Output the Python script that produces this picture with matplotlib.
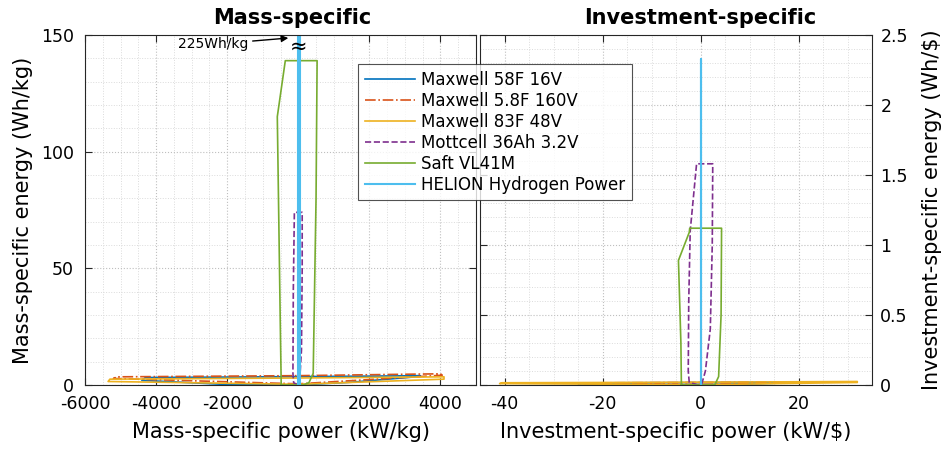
import matplotlib
matplotlib.use("Agg")
import matplotlib.pyplot as plt
from matplotlib.ticker import MultipleLocator

plt.rcParams['font.family'] = ['DejaVu Sans']
plt.rcParams['axes.unicode_minus'] = False

# ---------------- data ----------------
labels = ["Maxwell 58F 16V", "Maxwell 5.8F 160V", "Maxwell 83F 48V",
          "Mottcell 36Ah 3.2V", "Saft VL41M", "HELION Hydrogen Power"]

# mass-specific (power kW/kg, energy Wh/kg)
m58_p_mass = [0, -2000, -4400, -4300, -2000, 0, 2000, 3400, 3450, 1500, 0]
m58_e_mass = [0, 0.2, 2.0, 3.2, 3.4, 3.6, 3.8, 4.0, 3.7, 1.2, 0]
m58b_p_mass = [0, -5200, -5100, 0, 4000, 4050, 0]
m58b_e_mass = [0.5, 2.8, 3.5, 4.0, 4.8, 4.2, 0.5]
m83_p_mass = [0, -5350, -5300, 0, 4100, 4100, 0]
m83_e_mass = [0.3, 1.5, 2.5, 3.0, 3.5, 2.5, 0.3]
mott_p_mass = [-20, -130, -150, -140, -110, 110, 110, 90, 40, -20]
mott_e_mass = [0, 1, 5, 40, 74, 74, 50, 15, 2, 0]
saft_p_mass = [-480, -500, -590, -365, 530, 500, 420, 300, 140, -480]
saft_e_mass = [0, 20, 115, 139, 139, 80, 5, 1, 0, 0]
hel_p_mass = [0, 0, 50, 50, 0]
hel_e_mass = [0, 225, 225, 0, 0]

# investment-specific (power kW/$, energy Wh/$)
m58_p_inv = [0, -10, -25, -24, 0, 20, 20, 8, 0]
m58_e_inv = [0, 0.002, 0.010, 0.015, 0.017, 0.020, 0.017, 0.006, 0]
m58b_p_inv = [0, -25, -24, 0, 19.5, 19.5, 0]
m58b_e_inv = [0.002, 0.012, 0.015, 0.018, 0.022, 0.018, 0.002]
m83_p_inv = [0, -41, -40.5, 0, 32, 32, 0]
m83_e_inv = [0.002, 0.010, 0.016, 0.020, 0.025, 0.018, 0.002]
mott_p_inv = [-0.5, -2.3, -2.5, -2.4, -2.1, -0.8, 2.5, 2.4, 2.0, 1.0, 0.2, -0.5]
mott_e_inv = [0, 0.02, 0.1, 0.6, 1.1, 1.58, 1.58, 1.0, 0.4, 0.1, 0, 0]
saft_p_inv = [-3.9, -4.0, -4.5, -2.3, -2.2, 4.3, 4.2, 3.7, 2.9, -3.9]
saft_e_inv = [0, 0.3, 0.89, 1.09, 1.12, 1.12, 0.5, 0.06, 0, 0]
hel_p_inv = [0, 0, 0.2, 0.2, 0]
hel_e_inv = [0, 2.33, 2.33, 0, 0]

mass_x_ticks = [-6000, -4000, -2000, 0, 2000, 4000]
mass_y_ticks = [0, 50, 100, 150]
inv_x_ticks = [-40, -20, 0, 20]
inv_y_ticks = [0, 0.5, 1, 1.5, 2, 2.5]
inv_y_ticklabels = ["0", "0.5", "1", "1.5", "2", "2.5"]

colors = [(0, 0.447, 0.741), (0.85, 0.325, 0.098), (0.929, 0.694, 0.125),
          (0.494, 0.184, 0.556), (0.466, 0.674, 0.188), (0.301, 0.745, 0.933)]
styles = ['-', '-.', '-', '--', '-', '-']
widths = [1.2, 1.2, 1.2, 1.2, 1.2, 1.5]

mass_series = [(m58_p_mass, m58_e_mass), (m58b_p_mass, m58b_e_mass), (m83_p_mass, m83_e_mass),
               (mott_p_mass, mott_e_mass), (saft_p_mass, saft_e_mass), (hel_p_mass, hel_e_mass)]
inv_series = [(m58_p_inv, m58_e_inv), (m58b_p_inv, m58b_e_inv), (m83_p_inv, m83_e_inv),
              (mott_p_inv, mott_e_inv), (saft_p_inv, saft_e_inv), (hel_p_inv, hel_e_inv)]

# ---------------- figure ----------------
W, H = 944, 454
fig = plt.figure(figsize=(W / 100, H / 100), dpi=100)

def frac(x0, y0, x1, y1):
    return [x0 / W, 1 - y1 / H, (x1 - x0) / W, (y1 - y0) / H]

ax1 = fig.add_axes(frac(85, 35, 476, 385))
ax2 = fig.add_axes(frac(480, 35, 872, 385))

axcol = (0.15, 0.15, 0.15)

def style_axes(ax):
    ax.grid(True, which='major', linestyle=':', color=(0.75, 0.75, 0.75), linewidth=0.8)
    ax.grid(True, which='minor', linestyle=':', color=(0.86, 0.86, 0.86), linewidth=0.7)
    ax.set_axisbelow(True)
    for s in ax.spines.values():
        s.set_color(axcol)
        s.set_linewidth(0.8)
    ax.tick_params(which='both', direction='in', top=True, bottom=True, left=True, right=True,
                   colors=axcol, labelcolor='black', labelsize=12.5)
    ax.tick_params(which='major', length=5, width=0.8)
    ax.tick_params(which='minor', length=0)

handles = []
for (p, e), c, ls, lw, lab in zip(mass_series, colors, styles, widths, labels):
    h, = ax1.plot(p, e, color=c, linestyle=ls, linewidth=lw, label=lab)
    handles.append(h)
for (p, e), c, ls, lw in zip(inv_series, colors, styles, widths):
    ax2.plot(p, e, color=c, linestyle=ls, linewidth=lw)

ax1.set_xlim(-6000, 5000)
ax1.set_ylim(0, 150)
ax1.set_xticks(mass_x_ticks)
ax1.set_yticks(mass_y_ticks)
ax1.xaxis.set_minor_locator(MultipleLocator(500))
ax1.yaxis.set_minor_locator(MultipleLocator(10))
style_axes(ax1)
ax1.tick_params(axis='x', pad=7)
ax1.tick_params(axis='y', pad=8)
ax1.set_xlabel("Mass-specific power (kW/kg)", fontsize=15, labelpad=7)
ax1.set_ylabel("Mass-specific energy (Wh/kg)", fontsize=15, labelpad=6)

ax2.set_xlim(-45, 35)
ax2.set_ylim(0, 2.5)
ax2.set_xticks(inv_x_ticks)
ax2.set_yticks(inv_y_ticks)
ax2.set_yticklabels(inv_y_ticklabels)
ax2.xaxis.set_minor_locator(MultipleLocator(5))
ax2.yaxis.set_minor_locator(MultipleLocator(0.1))
style_axes(ax2)
ax2.tick_params(axis='x', pad=7)
ax2.tick_params(axis='y', labelleft=False, labelright=True, pad=6)
ax2.yaxis.set_label_position('right')
ax2.set_xlabel("Investment-specific power (kW/$)", fontsize=15, labelpad=7)
ax2.set_ylabel("Investment-specific energy (Wh/$)", fontsize=15, labelpad=10)

# titles
fig.text(292 / W, 1 - 18 / H, "Mass-specific", fontsize=15, fontweight='bold',
         ha='center', va='center')
fig.text(700 / W, 1 - 18 / H, "Investment-specific", fontsize=15, fontweight='bold',
         ha='center', va='center')

# annotation for off-scale hydrogen value
ax1.annotate("225Wh/kg", xy=(-280, 148.7), xytext=(-1400, 146.0),
             fontsize=10, ha='right', va='center',
             arrowprops=dict(arrowstyle='-|>', color='black', lw=1.0,
                             mutation_scale=10, shrinkA=1, shrinkB=0))
ax1.text(0, 145.0, "≈", fontsize=15, ha='center', va='center', color='black')

# legend
leg = fig.legend(handles=handles, loc='upper left', bbox_to_anchor=(358 / W, 1 - 64 / H),
                 fontsize=12, frameon=True, fancybox=False, borderaxespad=0,
                 handlelength=3.0, handletextpad=0.4, labelspacing=0.18,
                 borderpad=0.4)
leg.get_frame().set_edgecolor(axcol)
leg.get_frame().set_linewidth(0.8)

fig.savefig("out.png", dpi=100)
